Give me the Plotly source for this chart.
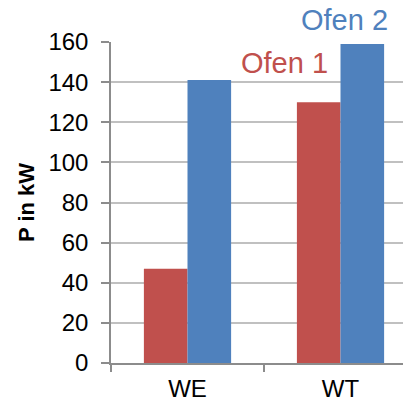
import plotly.graph_objects as go

categories = ["WE", "WT"]
ofen1 = [47, 130]
ofen2 = [141, 159]
series_names = ["Ofen 1", "Ofen 2"]
y_ticks = [0, 20, 40, 60, 80, 100, 120, 140, 160]

RED = "#C0504D"
BLUE = "#4F81BD"
FONT = "Liberation Sans, Arial, sans-serif"

fig = go.Figure()
fig.add_trace(go.Bar(x=categories, y=ofen1, name=series_names[0], marker_color=RED, marker_line_width=0))
fig.add_trace(go.Bar(x=categories, y=ofen2, name=series_names[1], marker_color=BLUE, marker_line_width=0))

W, H = 403, 403
L, R, T, B = 111, 0, 42, 40
plot_w = W - L - R
plot_h = H - T - B
cat_px = 153.0
x_max = -0.5 + plot_w / cat_px

fig.update_layout(
    width=W, height=H,
    margin=dict(l=L, r=R, t=T, b=B, pad=0),
    paper_bgcolor="white", plot_bgcolor="white",
    barmode="group", bargap=0.43, bargroupgap=0,
    showlegend=False,
    font=dict(family=FONT, color="#000000"),
)
fig.update_xaxes(
    type="category", range=[-0.5, x_max], automargin=False,
    showline=True, linecolor="#8c8c8c", linewidth=1.5,
    ticks="outside", tickson="boundaries", ticklen=7, tickcolor="#8c8c8c", tickwidth=1.5,
    tickfont=dict(size=24, family=FONT, color="#000"),
    ticklabelstandoff=3,
    showgrid=False,
)
fig.update_yaxes(
    range=[0, 160], tickvals=y_ticks, automargin=False,
    showline=True, linecolor="#8c8c8c", linewidth=1.5,
    ticks="outside", ticklen=8, tickcolor="#8c8c8c", tickwidth=1.5,
    tickfont=dict(size=24, family=FONT, color="#000"),
    ticklabelstandoff=8,
    showgrid=True, gridcolor="#c0c0c0", gridwidth=1.5,
    zeroline=False,
)
fig.add_annotation(
    text="<b>P in kW</b>", textangle=-90, xref="paper", yref="paper",
    x=(27 - L) / plot_w, y=(363 - 203) / plot_h, xanchor="center", yanchor="middle",
    showarrow=False, font=dict(size=22, family=FONT, color="#000"),
)
fig.add_annotation(
    text=series_names[1], xref="paper", yref="paper",
    x=(390 - L) / plot_w, y=(363 - 20) / plot_h, xanchor="right", yanchor="middle",
    showarrow=False, font=dict(size=29, family=FONT, color=BLUE),
)
fig.add_annotation(
    text=series_names[0], xref="paper", yref="paper",
    x=(330 - L) / plot_w, y=(363 - 63) / plot_h, xanchor="right", yanchor="middle",
    showarrow=False, font=dict(size=29, family=FONT, color=RED),
)

fig.write_html(
    "out.html",
    config={"displayModeBar": False},
    post_script="document.body.style.margin='0';document.body.style.overflow='hidden';",
)
